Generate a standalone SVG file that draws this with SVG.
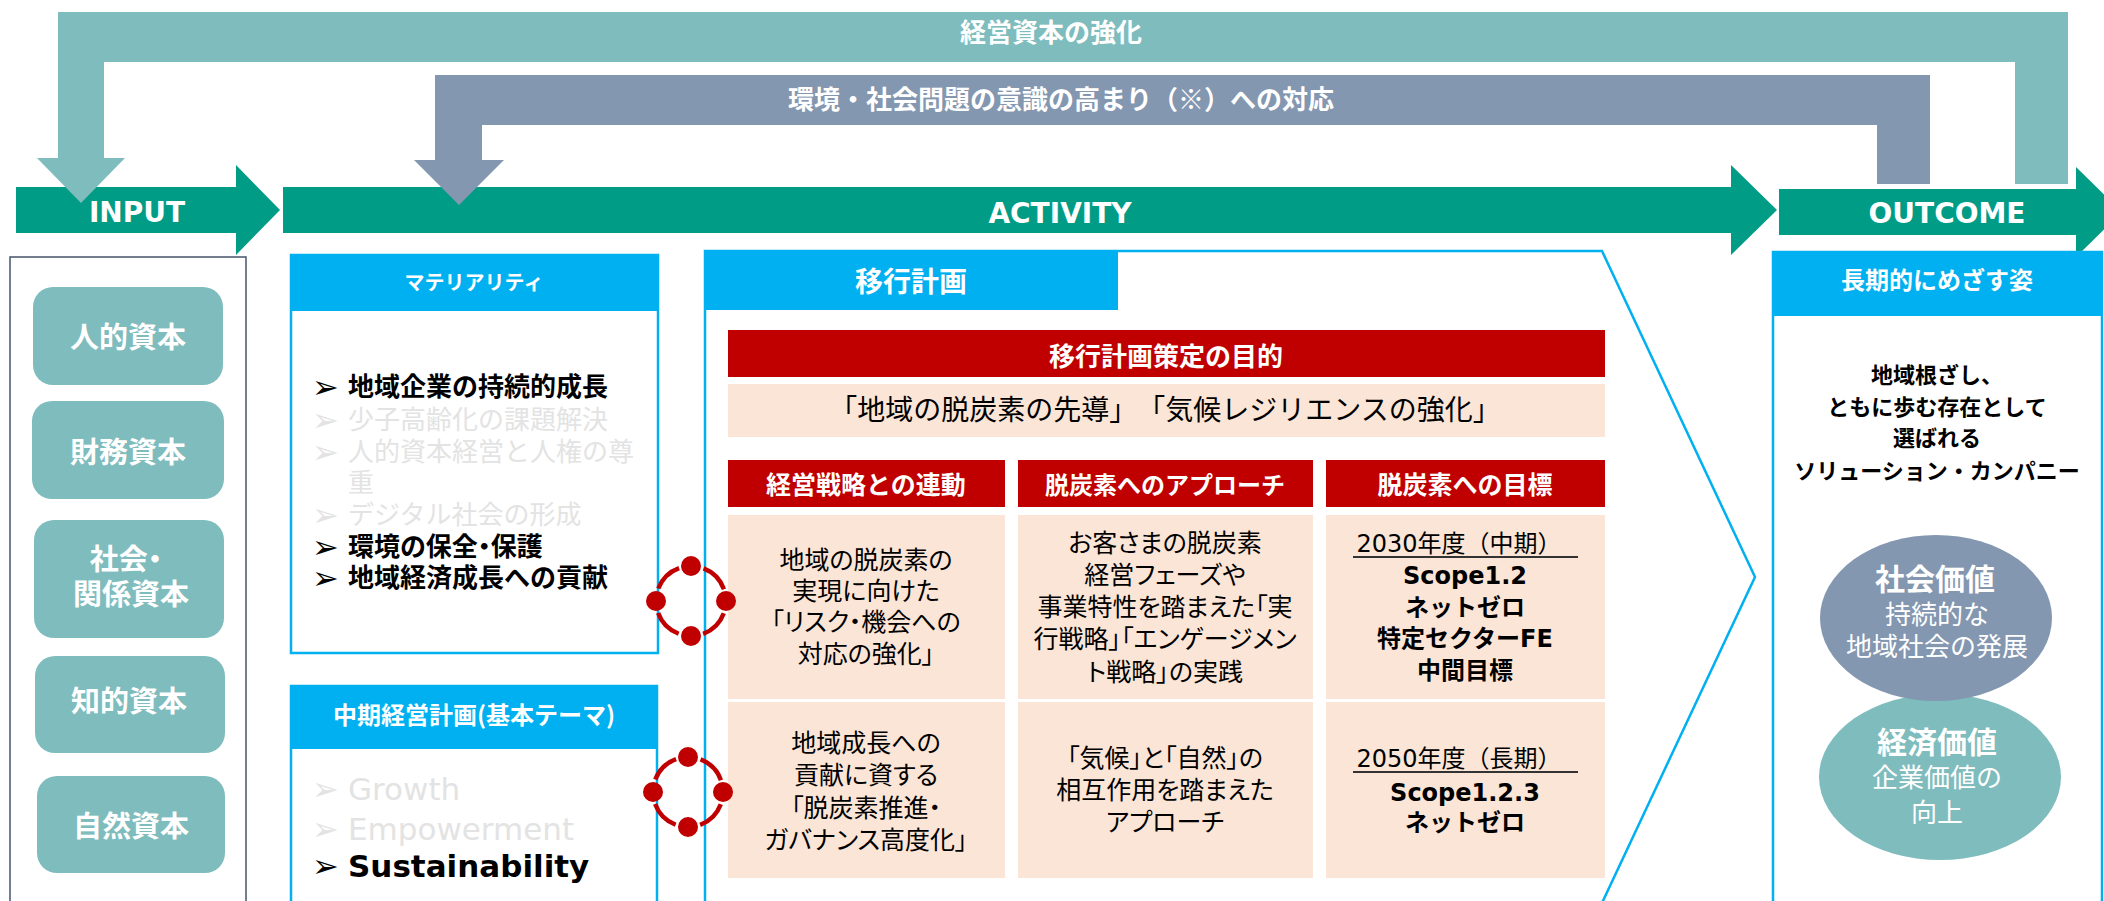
<svg xmlns="http://www.w3.org/2000/svg" width="2104" height="901" viewBox="0 0 2104 901">
<style>
.jp{font-family:"Noto Sans CJK JP",sans-serif}
.lt{font-family:"DejaVu Sans","Noto Sans CJK JP",sans-serif}
.p{font-feature-settings:"palt" 1}
.w{fill:#fff}
.k{fill:#000}
.b{font-weight:700}
.c{text-anchor:middle}
.hdr{fill:#00b0f0}
.frame{fill:#fff;stroke:#00b0f0;stroke-width:2.5}
.red{fill:#c00000}
.pink{fill:#fbe5d6}
.cap{fill:#7fbcbd}
.grn{fill:#009c86}
.fade{fill:#e3e3e3}
.bul{font-family:"DejaVu Sans",sans-serif;font-size:32px}
.ring{fill:none;stroke:#c00000;stroke-width:4.5;stroke-dasharray:30 25;stroke-dashoffset:-12.5}
.dot{fill:#c00000}
.ul{stroke:#333;stroke-width:2}
</style>
<rect x="0" y="0" width="2104" height="901" fill="#fff"/>

<g id="phase-arrows">
  <g id="input-arrow"><polygon class="grn" points="16,187 236,187 236,165 280,210 236,255 236,233 16,233"/>
    <text class="lt b w c" x="137" y="222" font-size="28">INPUT</text></g>
  <g id="activity-arrow"><polygon class="grn" points="283,187 1731,187 1731,165 1777,210 1731,255 1731,233 283,233"/>
    <text class="lt b w c" x="1060" y="223" font-size="28">ACTIVITY</text></g>
  <g id="outcome-arrow"><polygon class="grn" points="1779,189 2076,189 2076,167 2122,212 2076,257 2076,235 1779,235"/>
    <text class="lt b w c" x="1947" y="223" font-size="28">OUTCOME</text></g>
</g>

<g id="connectors">
  <g id="feedback-capital">
    <polygon fill="#7fbcbd" points="58,12 2068,12 2068,184 2015,184 2015,62 104,62 104,158 125,158 81,203 37,158 58,158"/>
    <text class="jp b w c" x="1051" y="42" font-size="26">経営資本の強化</text>
  </g>
  <g id="feedback-env">
    <polygon fill="#8497b0" points="435,75 1930,75 1930,184 1877,184 1877,125 482,125 482,160 504,160 459,205 414,160 435,160"/>
    <text class="jp b w c" x="1061" y="109" font-size="26">環境・社会問題の意識の高まり（※）への対応</text>
  </g>
</g>

<g id="input">
  <rect x="10" y="257" width="236" height="700" fill="none" stroke="#44546a" stroke-width="1.5"/>
  <g id="cap-human"><rect class="cap" x="33" y="287" width="190" height="98" rx="20"/>
    <text class="jp b w c" x="128" y="348" font-size="29">人的資本</text></g>
  <g id="cap-financial"><rect class="cap" x="32" y="401" width="192" height="98" rx="20"/>
    <text class="jp b w c" x="128" y="463" font-size="29">財務資本</text></g>
  <g id="cap-social"><rect class="cap" x="34" y="520" width="190" height="118" rx="20"/>
    <text class="jp b w c p" x="126" y="570" font-size="29">社会・</text>
    <text class="jp b w c" x="131" y="605" font-size="29">関係資本</text></g>
  <g id="cap-intellectual"><rect class="cap" x="35" y="656" width="190" height="97" rx="20"/>
    <text class="jp b w c" x="129" y="712" font-size="29">知的資本</text></g>
  <g id="cap-natural"><rect class="cap" x="37" y="776" width="188" height="97" rx="20"/>
    <text class="jp b w c" x="131" y="837" font-size="29">自然資本</text></g>
</g>

<g id="materiality">
  <rect class="frame" x="291" y="255" width="367" height="398"/>
  <rect class="hdr" x="291" y="255" width="367" height="56"/>
  <text class="jp b w c" x="474" y="290" font-size="20">マテリアリティ</text>
  <g font-size="26">
    <text class="bul k" x="312" y="398">➢</text><text class="jp b k" x="348" y="396">地域企業の持続的成長</text>
    <text class="bul fade" x="312" y="431">➢</text><text class="jp fade" x="348" y="429">少子高齢化の課題解決</text>
    <text class="bul fade" x="312" y="463">➢</text><text class="jp fade" x="348" y="461">人的資本経営と人権の尊</text>
    <text class="jp fade" x="348" y="492">重</text>
    <text class="bul fade" x="312" y="526">➢</text><text class="jp fade" x="348" y="524">デジタル社会の形成</text>
    <text class="bul k" x="312" y="558">➢</text><text class="jp b k p" x="348" y="556">環境の保全・保護</text>
    <text class="bul k" x="312" y="589">➢</text><text class="jp b k" x="348" y="587">地域経済成長への貢献</text>
  </g>
</g>

<g id="midterm-plan">
  <rect class="frame" x="291" y="686" width="366" height="260"/>
  <rect class="hdr" x="291" y="686" width="366" height="63"/>
  <text class="jp b w c" x="474" y="724" font-size="24">中期経営計画(基本テーマ)</text>
  <text class="bul fade" x="312" y="800">➢</text><text class="lt fade" x="348" y="800" font-size="31">Growth</text>
  <text class="bul fade" x="312" y="840">➢</text><text class="lt fade" x="348" y="840" font-size="31">Empowerment</text>
  <text class="bul k" x="312" y="877">➢</text><text class="lt b k" x="348" y="877" font-size="31">Sustainability</text>
</g>

<g id="transition-plan">
  <polygon class="frame" points="705,251 1602,251 1755,577 1594,920 705,920"/>
  <rect class="hdr" x="704" y="251" width="414" height="59"/>
  <text class="jp b w c" x="911" y="292" font-size="28">移行計画</text>
  <g id="purpose">
    <rect class="red" x="728" y="330" width="877" height="47"/>
    <text class="jp b w c" x="1166" y="366" font-size="26">移行計画策定の目的</text>
    <rect class="pink" x="728" y="384" width="877" height="53"/>
    <text class="jp k c" x="1165" y="420" font-size="28">「地域の脱炭素の先導」　「気候レジリエンスの強化」</text>
  </g>
  <g id="col-strategy">
    <rect class="red" x="728" y="460" width="277" height="47"/>
    <text class="jp b w c" x="866" y="494" font-size="25">経営戦略との連動</text>
    <rect class="pink" x="728" y="515" width="277" height="184"/>
    <g class="jp k c p" font-size="25">
      <text x="866" y="569">地域の脱炭素の</text>
      <text x="866" y="600">実現に向けた</text>
      <text x="866" y="631">「リスク・機会への</text>
      <text x="866" y="663">対応の強化」</text>
    </g>
    <rect class="pink" x="728" y="702" width="277" height="176"/>
    <g class="jp k c p" font-size="25">
      <text x="866" y="752">地域成長への</text>
      <text x="866" y="784">貢献に資する</text>
      <text x="866" y="817">「脱炭素推進・</text>
      <text x="866" y="849">ガバナンス高度化」</text>
    </g>
  </g>
  <g id="col-approach">
    <rect class="red" x="1018" y="460" width="295" height="47"/>
    <text class="jp b w c" x="1165" y="494" font-size="24">脱炭素へのアプローチ</text>
    <rect class="pink" x="1018" y="515" width="295" height="184"/>
    <g class="jp k c p" font-size="25">
      <text x="1165" y="552">お客さまの脱炭素</text>
      <text x="1165" y="584">経営フェーズや</text>
      <text x="1165" y="616">事業特性を踏まえた「実</text>
      <text x="1165" y="648">行戦略」「エンゲージメン</text>
      <text x="1165" y="681">ト戦略」の実践</text>
    </g>
    <rect class="pink" x="1018" y="702" width="295" height="176"/>
    <g class="jp k c p" font-size="25">
      <text x="1165" y="767">「気候」と「自然」の</text>
      <text x="1165" y="799">相互作用を踏まえた</text>
      <text x="1165" y="831">アプローチ</text>
    </g>
  </g>
  <g id="col-target">
    <rect class="red" x="1326" y="460" width="279" height="47"/>
    <text class="jp b w c" x="1465" y="494" font-size="25">脱炭素への目標</text>
    <rect class="pink" x="1326" y="515" width="279" height="184"/>
    <g class="lt k c" font-size="24">
      <text x="1459" y="552">2030年度（中期）</text>
      <text class="b" x="1465" y="584">Scope1.2</text>
      <text class="b" x="1465" y="616">ネットゼロ</text>
      <text class="b" x="1465" y="647">特定セクターFE</text>
      <text class="b" x="1465" y="679">中間目標</text>
    </g>
    <line class="ul" x1="1353" y1="557" x2="1578" y2="557"/>
    <rect class="pink" x="1326" y="702" width="279" height="176"/>
    <g class="lt k c" font-size="24">
      <text x="1459" y="767">2050年度（長期）</text>
      <text class="b" x="1465" y="801">Scope1.2.3</text>
      <text class="b" x="1465" y="831">ネットゼロ</text>
    </g>
    <line class="ul" x1="1353" y1="772" x2="1578" y2="772"/>
  </g>
</g>

<g id="links">
  <g id="link-1">
    <circle class="ring" cx="691" cy="601" r="35"/>
    <circle class="dot" cx="691" cy="566" r="10"/>
    <circle class="dot" cx="656" cy="601" r="10"/>
    <circle class="dot" cx="726" cy="601" r="10"/>
    <circle class="dot" cx="691" cy="636" r="10"/>
  </g>
  <g id="link-2">
    <circle class="ring" cx="688" cy="792" r="35"/>
    <circle class="dot" cx="688" cy="757" r="10"/>
    <circle class="dot" cx="653" cy="792" r="10"/>
    <circle class="dot" cx="723" cy="792" r="10"/>
    <circle class="dot" cx="688" cy="827" r="10"/>
  </g>
</g>

<g id="outcome">
  <rect class="frame" x="1773" y="252" width="329" height="700"/>
  <rect class="hdr" x="1773" y="252" width="329" height="64"/>
  <text class="jp b w c" x="1937" y="289" font-size="24">長期的にめざす姿</text>
  <g class="jp b k c" font-size="22">
    <text x="1937" y="383">地域根ざし、</text>
    <text x="1937" y="415">ともに歩む存在として</text>
    <text x="1937" y="446">選ばれる</text>
    <text x="1937" y="479">ソリューション・カンパニー</text>
  </g>
  <g id="economic-value">
    <ellipse cx="1940" cy="777" rx="121" ry="83" fill="#7fbcbd"/>
    <text class="jp b w c" x="1937" y="753" font-size="30">経済価値</text>
    <text class="jp w c" x="1937" y="787" font-size="26">企業価値の</text>
    <text class="jp w c" x="1937" y="822" font-size="26">向上</text>
  </g>
  <g id="social-value">
    <ellipse cx="1936" cy="618" rx="116" ry="83" fill="#8497b0"/>
    <text class="jp b w c" x="1935" y="590" font-size="30">社会価値</text>
    <text class="jp w c" x="1937" y="624" font-size="26">持続的な</text>
    <text class="jp w c" x="1937" y="656" font-size="26">地域社会の発展</text>
  </g>
</g>
</svg>
